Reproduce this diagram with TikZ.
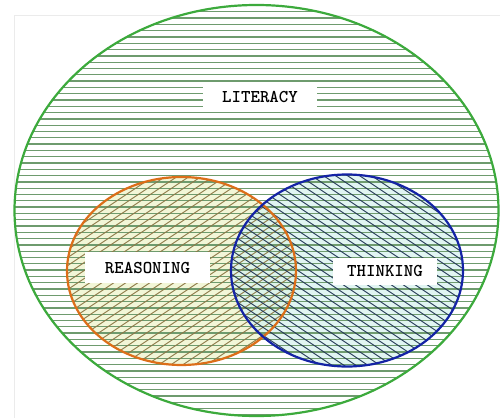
\documentclass[tikz,border=0pt]{standalone}
\usepackage{fontspec}
\usetikzlibrary{positioning}
\definecolor{litgreen}{RGB}{60,170,60}
\definecolor{linegreen}{RGB}{110,155,110}
\definecolor{reasonorange}{RGB}{220,110,25}
\definecolor{reasonhatch}{RGB}{140,120,70}
\definecolor{reasontint}{RGB}{242,246,215}
\definecolor{thinkblue}{RGB}{20,35,165}
\definecolor{thinkhatch}{RGB}{35,55,85}
\definecolor{thinktint}{RGB}{215,242,238}
\tikzset{
  tag/.style   ={rectangle, fill=white, inner sep=0pt, text=black,
                 font=\ttfamily\bfseries\fontsize{18}{18}\selectfont
                      \addfontfeatures{LetterSpace=9}},
  rim/.style   ={line width=2.2pt},
  hline/.style ={linegreen, line width=1.25pt},
  hatch/.style ={line width=0.9pt}
}

\begin{document}
\begin{tikzpicture}[x=1pt, y=1pt]
\useasboundingbox (0,0) rectangle (500,418);

\coordinate (lit) at (256.5,207.5);
\coordinate (rea) at (181.5,147);
\coordinate (thi) at (347,147.5);

% page frame
\draw[black!8, line width=0.8pt] (14,0) -- (14,403) -- (500,403);

% tints
\fill[white] (lit) ellipse (242 and 205.5);
\fill[reasontint] (rea) ellipse (114.5 and 94);
\fill[thinktint, opacity=0.75] (thi) ellipse (116 and 96);

% horizontal lines of literacy
\begin{scope}
  \clip (lit) ellipse (242 and 205.5);
  \foreach \y in {3,9.3,...,416}
    \draw[hline] (0,\y) -- (500,\y);
\end{scope}

% reasoning hatch
\begin{scope}
  \clip (rea) ellipse (114.5 and 94);
  \foreach \x in {-230,-218,...,300}
    \draw[hatch, reasonhatch] (\x,50) -- ++(300,200);
\end{scope}

% thinking hatch
\begin{scope}
  \clip (thi) ellipse (116 and 96);
  \foreach \x in {-90,-78,...,470}
    \draw[hatch, thinkhatch] (\x,246) -- ++(300,-200);
\end{scope}

% rims
\draw[rim, litgreen] (lit) ellipse (242 and 205.5);
\draw[rim, reasonorange] (rea) ellipse (114.5 and 94);
\draw[rim, thinkblue] (thi) ellipse (116 and 96);

\node[tag, minimum width=114pt, minimum height=30pt] (literacy) at (260,321) {LITERACY};
\node[tag, minimum width=125pt, minimum height=31pt] (reasoning) at (147.5,150.5) {REASONING};
\node[tag, minimum width=104pt, minimum height=27pt] (thinking) at (385,146.5) {THINKING};

\end{tikzpicture}
\end{document}
